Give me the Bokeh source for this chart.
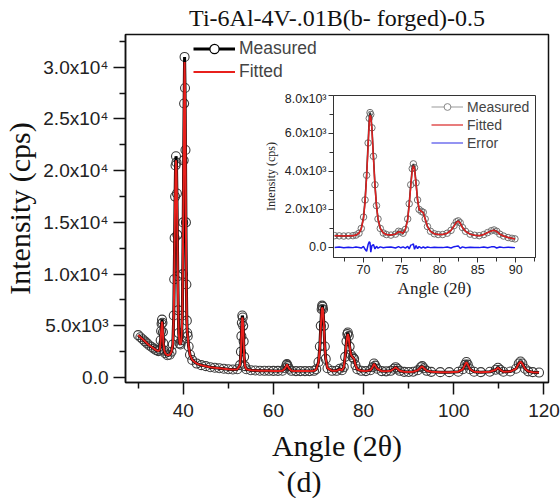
from bokeh.plotting import figure
from bokeh.models import (Range1d, FixedTicker, Legend, LegendItem, Title,
                          ColumnDataSource)
from bokeh.layouts import column
from bokeh.embed import file_html
from bokeh.resources import INLINE

# ---------------- data ----------------
main_angle = [
    30.0, 30.5, 31.0, 31.5, 32.0, 32.5, 33.0, 33.5, 34.0, 34.5,
    34.8, 35.0, 35.1, 35.2, 35.3, 35.4, 35.5, 35.6, 35.8, 36.0,
    36.5, 37.0, 37.4, 37.7, 37.9, 38.0, 38.1, 38.2, 38.3, 38.4,
    38.5, 38.6, 38.7, 38.8, 38.9, 39.0, 39.2, 39.4, 39.6, 39.8,
    39.9, 40.0, 40.1, 40.2, 40.3, 40.4, 40.5, 40.6, 40.7, 40.8,
    40.9, 41.0, 41.2, 41.5, 42.0, 43.0, 44.0, 45.0, 46.0, 47.0,
    48.0, 49.0, 50.0, 51.0, 52.0, 52.6, 52.8, 52.9, 53.0, 53.1,
    53.2, 53.3, 53.4, 53.5, 53.7, 54.0, 55.0, 56.0, 57.0, 58.0,
    59.0, 60.0, 61.0, 62.0, 62.6, 62.9, 63.0, 63.2, 63.5, 64.0,
    65.0, 66.0, 67.0, 68.0, 69.0, 69.5, 70.0, 70.3, 70.5, 70.7,
    70.8, 70.9, 71.0, 71.2, 71.4, 71.6, 72.0, 73.0, 74.0, 74.7,
    75.2, 75.6, 75.9, 76.2, 76.4, 76.5, 76.7, 76.9, 77.2, 77.6,
    77.9, 78.2, 78.6, 79.5, 80.5, 81.5, 82.0, 82.3, 82.6, 83.0,
    84.0, 85.0, 86.0, 86.7, 87.1, 87.5, 88.0, 89.0, 90.0, 91.0,
    92.0, 92.7, 93.0, 93.4, 94.0, 95.0, 97.0, 99.0, 101.0, 102.0,
    102.5, 102.8, 103.1, 103.6, 104.5, 106.0, 108.0, 109.3, 109.8, 110.3,
    111.0, 112.5, 113.8, 114.4, 114.8, 115.2, 115.8, 116.5, 117.5, 118.9,
]
main_measured = [
    4100, 3900, 3700, 3500, 3300, 3100, 2950, 2800, 2650, 2550,
    2700, 3600, 4500, 5200, 5600, 5300, 4400, 3300, 2600, 2350,
    2150, 2200, 2500, 3200, 6000, 9500, 13500, 17500, 20500, 21400,
    20800, 17800, 13800, 9800, 6500, 4300, 3300, 3200, 3600, 6000,
    10000, 15000, 21000, 26500, 31000, 28000, 22000, 15000, 9000, 5500,
    4300, 4000, 3000, 2200, 1700, 1350, 1200, 1100, 1000, 950,
    900, 850, 800, 780, 800, 1200, 2500, 4000, 5300, 6000,
    5800, 5000, 3500, 2000, 1100, 800, 700, 680, 660, 650,
    650, 640, 640, 660, 900, 1200, 1300, 1100, 850, 650,
    620, 620, 620, 620, 650, 800, 1500, 3000, 5000, 6600,
    6950, 6850, 6600, 5000, 3000, 1800, 900, 650, 650, 850,
    700, 1000, 2000, 3500, 4200, 4350, 4000, 3000, 2200, 1950,
    1800, 1200, 800, 650, 620, 700, 1000, 1350, 1150, 850,
    620, 600, 650, 850, 1000, 850, 650, 550, 540, 560,
    700, 1000, 1100, 900, 650, 550, 520, 520, 560, 800,
    1250, 1500, 1250, 800, 560, 520, 560, 750, 950, 750,
    560, 580, 850, 1350, 1550, 1350, 850, 600, 520, 480,
]
main_fitted = [
    4100, 3900, 3700, 3500, 3300, 3100, 2950, 2800, 2650, 2550,
    2700, 3500, 4400, 5000, 5400, 5100, 4300, 3300, 2600, 2350,
    2150, 2200, 2500, 3200, 5900, 9300, 13200, 17000, 20000, 21000,
    20400, 17500, 13600, 9700, 6400, 4300, 3300, 3200, 3600, 5900,
    9800, 14800, 20600, 26000, 30500, 27600, 21800, 14800, 8900, 5400,
    4300, 4000, 3000, 2200, 1700, 1350, 1200, 1100, 1000, 950,
    900, 850, 800, 780, 800, 1200, 2400, 3900, 5100, 5800,
    5600, 4900, 3400, 2000, 1100, 800, 700, 680, 660, 650,
    650, 640, 640, 660, 900, 1180, 1280, 1080, 850, 650,
    620, 620, 620, 620, 650, 800, 1450, 2900, 4800, 6400,
    6750, 6700, 6500, 4900, 3000, 1800, 900, 650, 650, 820,
    700, 1000, 1950, 3400, 4050, 4200, 3900, 3000, 2200, 1950,
    1800, 1200, 800, 650, 620, 700, 1000, 1330, 1130, 850,
    620, 600, 650, 850, 980, 850, 650, 550, 540, 560,
    700, 1000, 1080, 900, 650, 550, 520, 520, 560, 800,
    1250, 1480, 1250, 800, 560, 520, 560, 750, 940, 750,
    560, 580, 850, 1330, 1530, 1330, 850, 600, 520, 480,
]

inset_angle = [
    66.2, 66.8, 67.4, 68.0, 68.6, 69.0, 69.4, 69.7, 70.0, 70.2,
    70.4, 70.6, 70.75, 70.85, 70.95, 71.1, 71.3, 71.5, 71.7, 71.9,
    72.2, 72.6, 73.0, 73.6, 74.2, 74.6, 74.9, 75.2, 75.5, 75.8,
    76.0, 76.2, 76.4, 76.55, 76.7, 76.9, 77.1, 77.3, 77.6, 77.85,
    78.1, 78.4, 78.8, 79.3, 79.8, 80.4, 81.0, 81.5, 81.9, 82.2,
    82.45, 82.7, 83.0, 83.4, 84.0, 84.6, 85.2, 85.8, 86.3, 86.8,
    87.15, 87.5, 87.9, 88.4, 89.0, 89.5, 89.9,
]
inset_measured = [
    620, 610, 600, 610, 620, 650, 750, 1000, 1600, 2500,
    3800, 5500, 6800, 7100, 7000, 6300, 4800, 3300, 2200, 1500,
    1000, 760, 680, 650, 700, 850, 820, 750, 950, 1500,
    2300, 3300, 4150, 4400, 4200, 3400, 2500, 2000, 1900, 1850,
    1500, 1100, 850, 720, 680, 680, 750, 900, 1150, 1350,
    1400, 1300, 1050, 850, 700, 640, 620, 680, 780, 880,
    920, 850, 700, 600, 520, 480, 450,
]
inset_fitted = [
    620, 610, 600, 610, 620, 650, 750, 980, 1550, 2400,
    3700, 5300, 6600, 6950, 6900, 6200, 4700, 3250, 2200, 1500,
    1000, 760, 680, 650, 700, 820, 800, 750, 950, 1450,
    2250, 3200, 4050, 4300, 4100, 3350, 2500, 2000, 1900, 1820,
    1500, 1100, 850, 720, 680, 680, 750, 900, 1130, 1320,
    1380, 1280, 1050, 850, 700, 640, 620, 680, 780, 870,
    900, 840, 700, 600, 520, 480, 450,
]
inset_error = [
    0, 20, -20, 10, -10, 20, 0, -30, 50, -100,
    -200, 150, 300, 250, -250, 100, 150, -80, 60, -40,
    30, -20, 10, 20, -30, 40, -20, 30, -40, 60,
    -80, 120, 150, 180, -100, 100, -60, 50, -40, 30,
    -30, 20, -10, 10, 0, -10, 20, -30, 40, 60,
    80, -50, 30, -20, 10, 0, -10, 20, -20, 30,
    40, -30, 20, -10, 10, 0, -10,
]

main_x_ticks = [40, 60, 80, 100, 120]
main_y_ticks = [0, 5000, 10000, 15000, 20000, 25000, 30000]
main_y_labels = ["0.0", "5.0x10\u00b3", "1.0x10\u2074", "1.5x10\u2074",
                 "2.0x10\u2074", "2.5x10\u2074", "3.0x10\u2074"]
inset_x_ticks = [70, 75, 80, 85, 90]
inset_y_ticks = [0, 2000, 4000, 6000, 8000]
inset_y_labels = ["0.0", "2.0x10\u00b3", "4.0x10\u00b3", "6.0x10\u00b3", "8.0x10\u00b3"]

SERIF = "Liberation Serif"
SANS = "Liberation Sans"

main_src = ColumnDataSource(dict(x=main_angle, m=main_measured, f=main_fitted))
inset_src = ColumnDataSource(dict(x=inset_angle, m=inset_measured, f=inset_fitted, e=inset_error))

# ---------------- main figure ----------------
p = figure(width=560, height=498, x_range=Range1d(27.2, 121.0),
           y_range=Range1d(-480, 33170), output_backend="svg",
           toolbar_location=None, min_border_left=120, min_border_right=12,
           min_border_top=34, min_border_bottom=116)
p.frame_align = False
# a range far above the data: legend-key renderers use it, so they draw
# nothing inside the frame (only their legend swatch is visible)
p.extra_y_ranges = {"key": Range1d(1e9, 2e9)}
p.title.text = "Ti-6Al-4V-.01B(b- forged)-0.5"
p.title.text_font = SERIF
p.title.text_font_size = "24px"
p.title.text_font_style = "normal"
p.title.align = "center"
p.title.vertical_align = "top"
p.title.text_color = "#111"
p.title.standoff = 3
p.grid.visible = False
p.outline_line_color = "#111"
p.outline_line_width = 1.5
p.background_fill_color = "white"
p.border_fill_color = "white"

m_circ = p.scatter("x", "m", source=main_src, marker="circle", size=9,
                   fill_alpha=0, line_color="#3a3a3a", line_width=1.1)
m_line = p.line("x", "m", source=main_src, line_color="black", line_width=3)
f_line = p.line("x", "f", source=main_src, line_color="#e8201c", line_width=2)
m_key = p.scatter("x", "m", source=main_src, y_range_name="key", marker="circle",
                  size=9, fill_color="white", line_color="black", line_width=1.2)

for ax in (p.xaxis[0], p.yaxis[0]):
    ax.axis_line_color = "#111"
    ax.axis_line_width = 1.5
    ax.major_tick_line_color = "#111"
    ax.minor_tick_line_color = "#111"
    ax.major_tick_line_width = 1.5
    ax.minor_tick_line_width = 1.5
    ax.major_tick_in = 0
    ax.minor_tick_in = 0
    ax.major_tick_out = 12
    ax.minor_tick_out = 6
    ax.major_label_text_font = SANS
    ax.major_label_text_font_size = "19px"
    ax.major_label_text_color = "#222"
    ax.axis_label_text_font = SERIF
    ax.axis_label_text_font_size = "30px"
    ax.axis_label_text_font_style = "normal"
    ax.axis_label_text_color = "#111"

p.xaxis.ticker = FixedTicker(ticks=main_x_ticks, minor_ticks=[t - 10 for t in main_x_ticks])
p.yaxis.ticker = FixedTicker(ticks=main_y_ticks, minor_ticks=[t + 2500 for t in main_y_ticks])
p.yaxis.major_label_overrides = dict(zip(main_y_ticks, main_y_labels))
p.xaxis.axis_label = "Angle (2\u03b8)"
p.yaxis.axis_label = "Intensity (cps)"
p.xaxis.major_label_standoff = 9
p.yaxis.major_label_standoff = 5
p.xaxis.axis_label_standoff = 9
p.yaxis.axis_label_standoff = 4

legend = Legend(items=[LegendItem(label="Measured", renderers=[m_line, m_key]),
                       LegendItem(label="Fitted", renderers=[f_line])],
                location=(68, 299), border_line_color=None, background_fill_alpha=0,
                label_text_font=SANS, label_text_font_size="17.5px",
                glyph_width=42, glyph_height=23, label_height=23,
                spacing=0, padding=0, margin=0, label_standoff=4)
p.add_layout(legend)

cap = Title(text="`(d)", align="left", offset=151, standoff=-4, text_font=SERIF,
            text_font_size="30px", text_font_style="normal", text_color="#111")
p.add_layout(cap, "below")

# ---------------- inset figure ----------------
inset = figure(width=284, height=216, x_range=Range1d(66.05, 92.6),
               y_range=Range1d(-530, 8000), output_backend="svg",
               toolbar_location=None, min_border_left=78, min_border_right=4,
               min_border_top=4, min_border_bottom=50,
               styles={"position": "absolute", "left": "255px", "top": "91px"})
inset.frame_align = False
inset.extra_y_ranges = {"key": Range1d(1e9, 2e9)}
inset.grid.visible = False
inset.outline_line_color = "#333"
inset.outline_line_width = 1
inset.background_fill_color = "white"
inset.border_fill_alpha = 0

i_circ = inset.scatter("x", "m", source=inset_src, marker="circle", size=6.5,
                       fill_alpha=0, line_color="#707070", line_width=1)
i_line = inset.line("x", "m", source=inset_src, line_color="#333", line_width=1.6)
i_fit = inset.line("x", "f", source=inset_src, line_color="#e02020", line_width=1.5)
i_err = inset.line("x", "e", source=inset_src, line_color="#1a1aee", line_width=1.5)
# legend-key renderers (mapped onto the far "key" range: nothing drawn in frame)
i_key_line = inset.line("x", "m", source=inset_src, y_range_name="key",
                        line_color="#9a9a9a", line_width=1.2)
i_key_circ = inset.scatter("x", "m", source=inset_src, y_range_name="key",
                           marker="circle", size=5, fill_color="white",
                           line_color="#888", line_width=1)
i_key_fit = inset.line("x", "f", source=inset_src, y_range_name="key",
                       line_color="#e05050", line_width=1.5)
i_key_err = inset.line("x", "e", source=inset_src, y_range_name="key",
                       line_color="#7070ee", line_width=1.5)

for ax in (inset.xaxis[0], inset.yaxis[0]):
    ax.axis_line_color = "#333"
    ax.major_tick_line_color = "#333"
    ax.minor_tick_line_color = "#333"
    ax.major_tick_in = 0
    ax.minor_tick_in = 0
    ax.major_tick_out = 5
    ax.minor_tick_out = 4
    ax.major_label_text_font = SANS
    ax.major_label_text_font_size = "12.5px"
    ax.major_label_text_color = "#222"
    ax.axis_label_text_font = SERIF
    ax.axis_label_text_font_style = "normal"
    ax.axis_label_text_color = "#222"
    ax.major_label_standoff = 2

inset.xaxis.ticker = FixedTicker(ticks=inset_x_ticks, minor_ticks=[t - 2.5 for t in inset_x_ticks] + [92.5])
inset.yaxis.ticker = FixedTicker(ticks=inset_y_ticks, minor_ticks=[t + 1000 for t in inset_y_ticks[:-1]])
inset.yaxis.major_label_overrides = dict(zip(inset_y_ticks, inset_y_labels))
inset.xaxis.axis_label = "Angle (2\u03b8)"
inset.yaxis.axis_label = "Intensity (cps)"
inset.xaxis.axis_label_text_font_size = "17px"
inset.yaxis.axis_label_text_font_size = "12px"
inset.xaxis.axis_label_standoff = 2
inset.yaxis.axis_label_standoff = 4

ilegend = Legend(items=[LegendItem(label="Measured", renderers=[i_key_line, i_key_circ]),
                        LegendItem(label="Fitted", renderers=[i_key_fit]),
                        LegendItem(label="Error", renderers=[i_key_err])],
                 location=(98, 106), border_line_color=None, background_fill_alpha=0,
                 label_text_font=SANS, label_text_font_size="14px",
                 glyph_width=32, glyph_height=17, label_height=17,
                 spacing=1, padding=0, margin=0, label_standoff=4)
inset.add_layout(ilegend)

layout = column(p, inset, styles={"position": "relative"})

open("out.html", "w").write(file_html(layout, INLINE))
